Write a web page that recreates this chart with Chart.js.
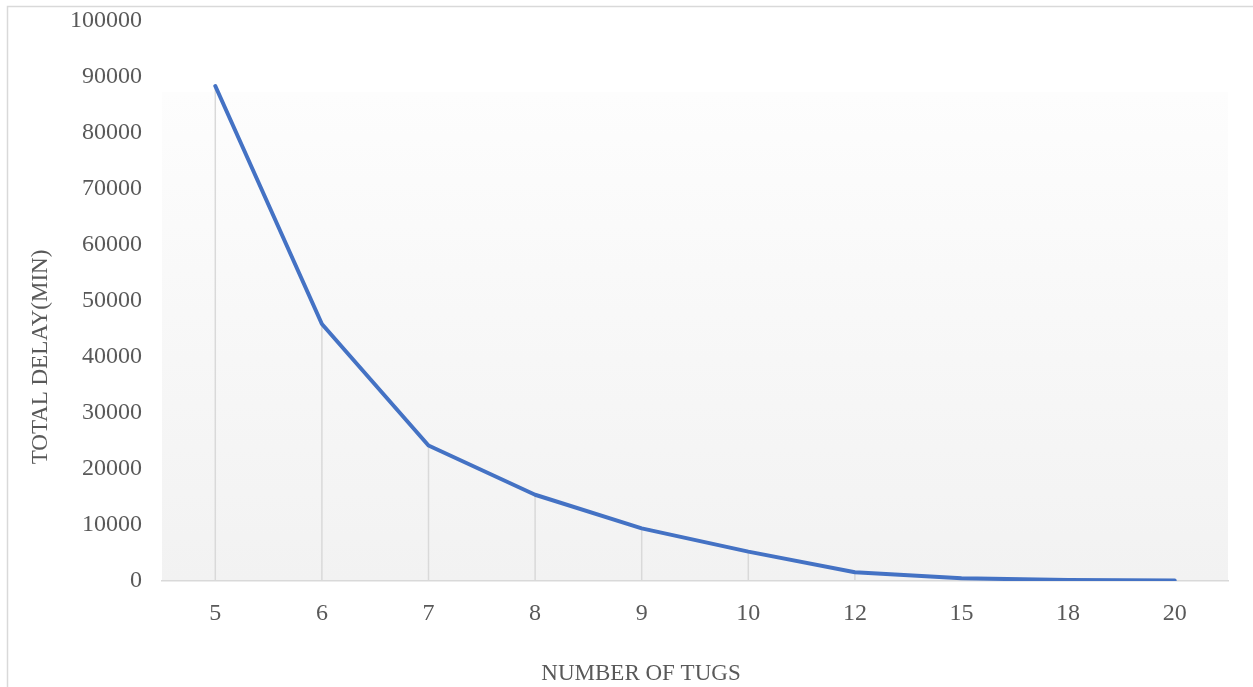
<!DOCTYPE html>
<html>
<head>
<meta charset="utf-8">
<script src="https://cdn.jsdelivr.net/npm/chart.js@4/dist/chart.umd.min.js"></script>
<style>
  html, body { margin: 0; padding: 0; background: #ffffff; overflow: hidden; }
  #wrap { position: relative; width: 1253px; height: 687px; }
</style>
</head>
<body>
<div id="wrap"><canvas id="c" width="1253" height="687"></canvas></div>
<script>
// Number of tugs on the x axis
const tugCounts = ['5', '6', '7', '8', '9', '10', '12', '15', '18', '20'];
// Total delay in minutes for each fleet size
const totalDelay = [88400, 45900, 24200, 15400, 9400, 5250, 1550, 480, 180, 100];
// Value axis ticks
const yTickValues = [0, 10000, 20000, 30000, 40000, 50000, 60000, 70000, 80000, 90000, 100000];

const xTitle = 'NUMBER OF TUGS';
const yTitle = 'TOTAL DELAY(MIN)';

const FONT = "'Liberation Serif', 'Times New Roman', serif";
const TEXT = '#595959';
const RULE = '#d9d9d9';

// Outer frame, plot-area gradient and the axis titles
const decor = {
  id: 'decor',
  beforeDraw(chart) {
    const { ctx, chartArea: a } = chart;
    ctx.save();
    ctx.strokeStyle = RULE;
    ctx.lineWidth = 1.5;
    ctx.strokeRect(7.5, 6.5, chart.width + 40, chart.height + 40);

    const top = a.top + 71;
    const g = ctx.createLinearGradient(0, top, 0, a.bottom);
    g.addColorStop(0, '#fdfdfd');
    g.addColorStop(1, '#f2f2f2');
    ctx.fillStyle = g;
    ctx.fillRect(a.left, top, a.right - a.left, a.bottom - top);
    ctx.restore();
  },
  beforeDatasetsDraw(chart) {
    // drop lines from each point to the category axis
    const { ctx } = chart;
    const meta = chart.getDatasetMeta(0);
    const base = chart.scales.y.getPixelForValue(0);
    ctx.save();
    ctx.strokeStyle = RULE;
    ctx.lineWidth = 1.5;
    meta.data.forEach(p => {
      ctx.beginPath();
      ctx.moveTo(p.x, p.y);
      ctx.lineTo(p.x, base);
      ctx.stroke();
    });
    ctx.restore();
  },
  afterDraw(chart) {
    const { ctx } = chart;
    ctx.save();
    ctx.fillStyle = TEXT;
    ctx.font = '23px ' + FONT;
    ctx.textAlign = 'center';
    ctx.textBaseline = 'middle';
    ctx.fillText(xTitle, 641, 674);
    ctx.translate(41, 357);
    ctx.rotate(-Math.PI / 2);
    ctx.fillText(yTitle, 0, 0);
    ctx.restore();
  }
};

new Chart(document.getElementById('c'), {
  type: 'line',
  data: {
    labels: tugCounts,
    datasets: [{
      data: totalDelay,
      borderColor: '#4472C4',
      borderWidth: 4,
      pointRadius: 0,
      tension: 0,
      fill: false,
      borderCapStyle: 'round',
      borderJoinStyle: 'round'
    }]
  },
  options: {
    responsive: false,
    animation: false,
    devicePixelRatio: 1,
    layout: { padding: { left: 0, right: 25, top: 21, bottom: 0 } },
    plugins: { legend: { display: false }, tooltip: { enabled: false }, title: { display: false } },
    scales: {
      x: {
        offset: true,
        grid: { display: false, drawTicks: false },
        border: { display: true, color: RULE, width: 1.5 },
        ticks: { color: TEXT, font: { family: FONT, size: 24 }, padding: 18, maxRotation: 0 },
        afterFit(s) { s.height = 106; }
      },
      y: {
        min: 0,
        max: 100000,
        afterBuildTicks(s) { s.ticks = yTickValues.map(v => ({ value: v })); },
        grid: { display: false, drawTicks: false },
        border: { display: false },
        ticks: { color: TEXT, font: { family: FONT, size: 24 }, padding: 20, callback: v => String(v) },
        afterFit(s) { s.width = 162; s.paddingTop = 0; s.paddingBottom = 0; }
      }
    }
  },
  plugins: [decor]
});
</script>
</body>
</html>
